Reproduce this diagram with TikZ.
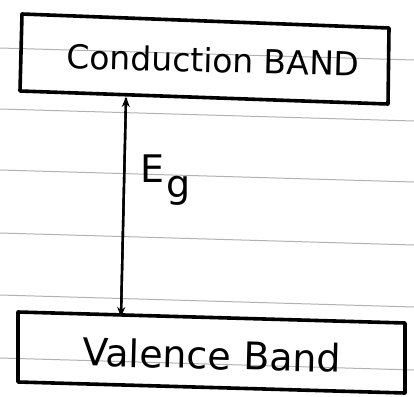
\documentclass[tikz,border=0pt]{standalone}
\usepackage{fontspec}
\setmainfont{DejaVu Sans}
\usetikzlibrary{arrows.meta}
\begin{document}
\begin{tikzpicture}[x=1pt,y=-1pt,
  rule/.style={draw=black!30,line width=1pt},
  bandbox/.style={draw=black,line width=3.6pt,line join=round},
  label/.style={inner sep=0pt},
  gap/.style={-{Stealth[length=10pt,width=8pt]},line width=2.4pt,shorten >=-1pt}]
  % page
  \useasboundingbox[fill=white] (0,0) rectangle (414,396);
  % ruled lines of the sheet
  \foreach \y in {48,109,170,233,295,358}
    \draw[rule] (0,\y) -- (414,\y+12);
  % conduction band outline
  \coordinate (c-tl) at (22,14);
  \coordinate (c-tr) at (389,28);
  \coordinate (c-br) at (388,104);
  \coordinate (c-bl) at (20,91);
  \draw[bandbox] (c-tl) -- (c-tr) -- (c-br) -- (c-bl) -- cycle;
  \node[label,rotate=-1.5,font=\fontsize{33}{36}\selectfont] (cb) at (213,60) {Conduction BAND};
  % valence band outline
  \coordinate (v-tl) at (18,312);
  \coordinate (v-tr) at (405,323);
  \coordinate (v-br) at (405,393);
  \coordinate (v-bl) at (18,382);
  \draw[bandbox] (v-tl) -- (v-tr) -- (v-br) -- (v-bl) -- cycle;
  \node[label,rotate=-1.5,font=\fontsize{38}{40}\selectfont] (vb) at (212,355) {Valence Band};
  % energy gap arrow
  \coordinate (gtop) at (126,98);
  \coordinate (gbot) at (121,316);
  \draw[gap] (gbot) -- (gtop);
  \draw[gap] (gtop) -- (gbot);
  \node[font=\fontsize{38}{40}\selectfont,inner sep=0pt,anchor=west] (eg) at (140,180) {E\kern2pt\raisebox{-0.7ex}{g}};
\end{tikzpicture}
\end{document}
